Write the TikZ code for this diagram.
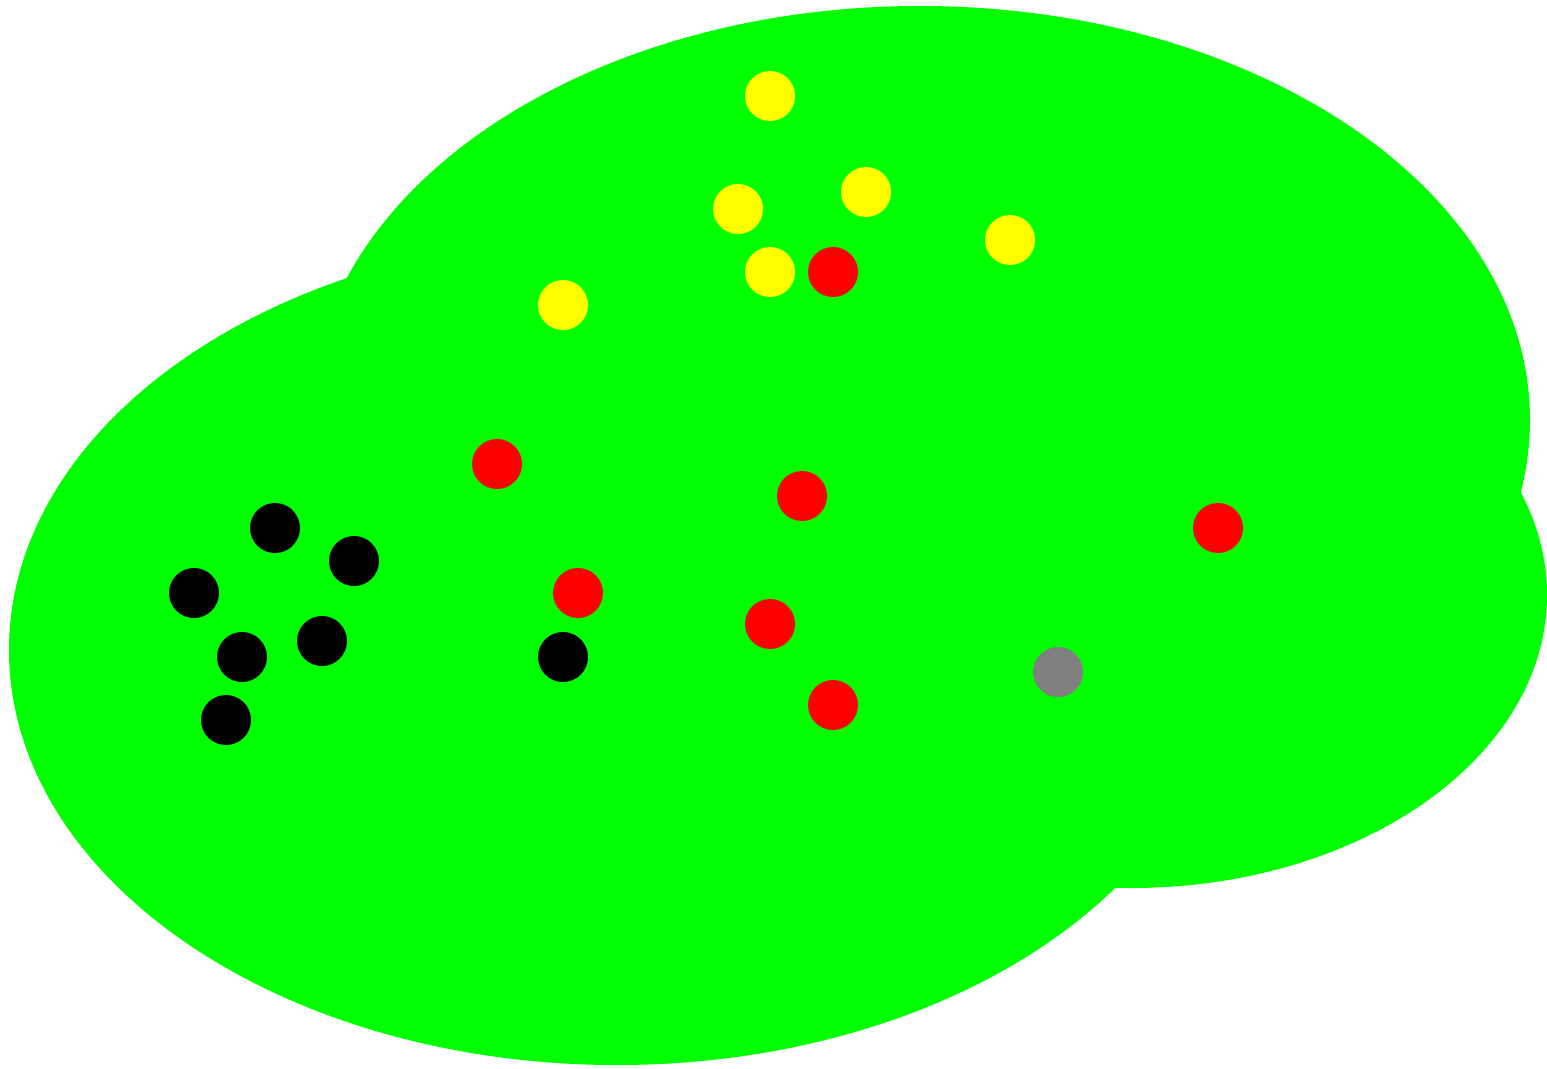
\documentclass[tikz,border=0pt]{standalone}
\definecolor{blobgreen}{RGB}{0,255,0}
\definecolor{dotyellow}{RGB}{255,255,0}
\definecolor{dotred}{RGB}{255,0,0}
\definecolor{dotgray}{RGB}{128,128,128}
\begin{document}
\begin{tikzpicture}[x=1pt,y=-1pt,
  dot/.style={circle,inner sep=0pt,minimum size=50pt,draw=none},
  ydot/.style={dot,fill=dotyellow},
  rdot/.style={dot,fill=dotred},
  kdot/.style={dot,fill=black},
  gdot/.style={dot,fill=dotgray}]
\useasboundingbox (0,0) rectangle (1547,1068);
\fill[white] (0,0) rectangle (1547,1068);
% green regions
\fill[blobgreen] (617,650) ellipse [x radius=608pt, y radius=415pt];
\fill[blobgreen] (920,420) ellipse [x radius=610pt, y radius=414pt];
\fill[blobgreen] (1131,595) ellipse [x radius=416pt, y radius=293pt];
% yellow
\node[ydot] (y1) at (770,96) {};
\node[ydot] (y2) at (738,209) {};
\node[ydot] (y3) at (866,192) {};
\node[ydot] (y4) at (1010,240) {};
\node[ydot] (y5) at (770,272) {};
\node[ydot] (y6) at (563,305) {};
% red
\node[rdot] (r1) at (833,272) {};
\node[rdot] (r2) at (497,464) {};
\node[rdot] (r3) at (802,496) {};
\node[rdot] (r4) at (1218,528) {};
\node[rdot] (r5) at (578,593) {};
\node[rdot] (r6) at (770,624) {};
\node[rdot] (r7) at (833,705) {};
% black
\node[kdot] (k1) at (275,528) {};
\node[kdot] (k2) at (354,561) {};
\node[kdot] (k3) at (194,593) {};
\node[kdot] (k4) at (322,641) {};
\node[kdot] (k5) at (242,657) {};
\node[kdot] (k6) at (226,720) {};
\node[kdot] (k7) at (563,657) {};
% gray
\node[gdot] (g1) at (1058,672) {};
\end{tikzpicture}
\end{document}
